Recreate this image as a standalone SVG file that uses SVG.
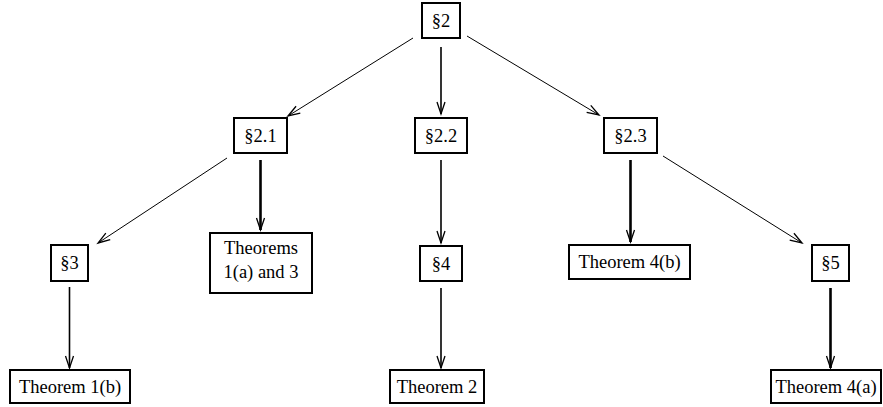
<svg xmlns="http://www.w3.org/2000/svg" width="883" height="407" viewBox="0 0 883 407">
<style>
.box{fill:#fff;stroke:#000;stroke-width:2}
.t{font-family:'Liberation Serif','Times New Roman','DejaVu Serif',serif;font-size:18.5px;fill:#000;text-anchor:middle}
.c{fill:none;stroke:#000;marker-end:url(#ah)}
.thin{stroke-width:1}
.med{stroke-width:1.6}
.thick{stroke-width:2.6}
</style>
<defs>
<marker id="ah" markerUnits="userSpaceOnUse" markerWidth="16" markerHeight="12" refX="13" refY="5" orient="auto">
<path d="M1,1 L13,5 L1,9" fill="none" stroke="#000" stroke-width="1.3"/>
</marker>
</defs>
<g id="connectors">
<line class="c thin" x1="413" y1="38" x2="288" y2="116"/>
<line class="c med" x1="441" y1="47" x2="441" y2="114"/>
<line class="c thin" x1="467" y1="36" x2="599" y2="115"/>
<line class="c thin" x1="227" y1="158" x2="98" y2="243"/>
<line class="c thick" x1="260.5" y1="160" x2="260.5" y2="230"/>
<line class="c med" x1="441" y1="160" x2="441" y2="243"/>
<line class="c thick" x1="630.5" y1="160" x2="630.5" y2="242"/>
<line class="c thin" x1="663" y1="156" x2="802" y2="243"/>
<line class="c med" x1="69.5" y1="287" x2="69.5" y2="368"/>
<line class="c med" x1="441" y1="288" x2="441" y2="368"/>
<line class="c thick" x1="830.5" y1="288" x2="830.5" y2="368"/>
</g>
<g id="s2"><rect class="box" x="422" y="3" width="38" height="35"/><text class="t" x="441" y="27">§2</text></g>
<g id="s2_1"><rect class="box" x="234" y="118" width="53" height="35"/><text class="t" x="260.5" y="142">§2.1</text></g>
<g id="s2_2"><rect class="box" x="415" y="118" width="52" height="35"/><text class="t" x="441" y="142">§2.2</text></g>
<g id="s2_3"><rect class="box" x="604" y="118" width="53" height="35"/><text class="t" x="630.5" y="142">§2.3</text></g>
<g id="s3"><rect class="box" x="51" y="245" width="37" height="36"/><text class="t" x="69.5" y="269">§3</text></g>
<g id="thm1a3"><rect class="box" x="210" y="233" width="102" height="60"/><text class="t" x="261" y="254">Theorems</text><text class="t" x="261" y="278">1(a) and 3</text></g>
<g id="s4"><rect class="box" x="420" y="246" width="42" height="35"/><text class="t" x="441" y="270">§4</text></g>
<g id="thm4b"><rect class="box" x="569" y="245" width="121" height="34"/><text class="t" x="629.5" y="268">Theorem 4(b)</text></g>
<g id="s5"><rect class="box" x="812" y="245" width="37" height="36"/><text class="t" x="830.5" y="269">§5</text></g>
<g id="thm1b"><rect class="box" x="10" y="370" width="120" height="33"/><text class="t" x="70" y="393">Theorem 1(b)</text></g>
<g id="thm2"><rect class="box" x="390" y="370" width="94" height="33"/><text class="t" x="437" y="393">Theorem 2</text></g>
<g id="thm4a"><rect class="box" x="771" y="370" width="110" height="33"/><text class="t" x="826" y="393">Theorem 4(a)</text></g>
</svg>
